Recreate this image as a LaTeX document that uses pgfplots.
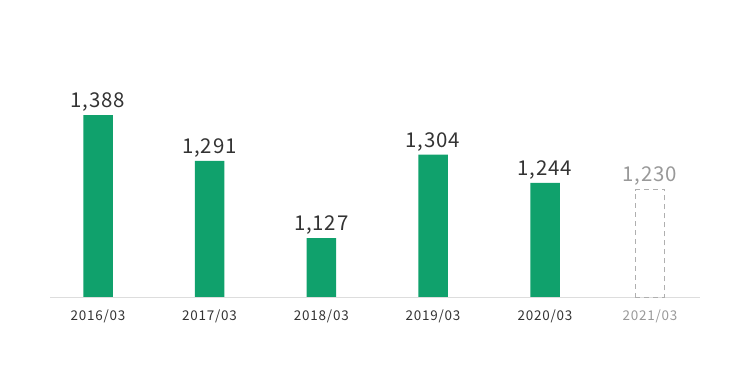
\documentclass[border=0pt]{standalone}
\usepackage{pgfplots}
\pgfplotsset{compat=1.18}
\usepackage{fontspec}
\setmainfont{Noto Sans CJK JP}
\newfontfamily\lblfont[LetterSpace=4]{Noto Sans CJK JP}
\newfontfamily\tickfont[LetterSpace=6]{Noto Sans CJK JP}
\definecolor{bargreen}{RGB}{16,161,108}
\definecolor{txt}{RGB}{51,51,51}
\definecolor{lightgr}{RGB}{153,153,153}
\definecolor{dashgr}{RGB}{175,175,175}
\definecolor{axgr}{RGB}{221,221,221}
\begin{document}
\begin{tikzpicture}
\path[use as bounding box] (0,0) rectangle (750bp,366bp);
\begin{axis}[
  at={(50bp,69bp)}, anchor=south west,
  scale only axis, width=650bp, height=237bp,
  xmin=50, xmax=700, ymin=1002, ymax=1505,
  axis x line=bottom, axis y line=none,
  axis line style={-, draw=axgr, line width=0.8bp},
  xtick={98,209.5,321.3,433,545,650},
  xticklabels={2016/03,2017/03,2018/03,2019/03,2020/03,\textcolor{lightgr}{2021/03}},
  xticklabel style={font=\tickfont\fontsize{13.5}{14}\selectfont, text=txt, anchor=north, inner sep=0pt, yshift=-13bp},
  major tick length=0pt,
  /pgf/number format/assume math mode=true,
  ybar, bar width=29.5bp, bar shift=0pt,
  clip=false,
  nodes near coords,
  nodes near coords style={anchor=south, inner sep=0pt, text depth=0pt, yshift=7.5bp, font=\lblfont\fontsize{20.5}{22}\selectfont},
]
\addplot[fill=bargreen, draw=none, nodes near coords style={text=txt}] coordinates {
  (98,1388) (209.5,1291) (321.3,1127) (433,1304) (545,1244)
};
\addplot[fill=white, draw=dashgr, dashed, dash pattern=on 5bp off 4bp, line width=0.9bp, nodes near coords style={text=lightgr}] coordinates {
  (650,1230)
};
\end{axis}
\end{tikzpicture}
\end{document}
